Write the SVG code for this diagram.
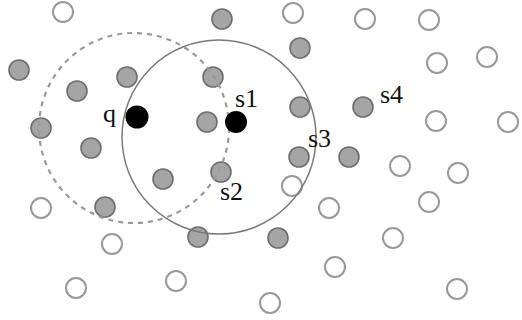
<svg xmlns="http://www.w3.org/2000/svg" width="522" height="320" viewBox="0 0 522 320">
<style>
.w{fill:#fff;stroke:#999;stroke-width:2}
.g{fill:#a5a5a5;stroke:#6e6e6e;stroke-width:1.6}
.b{fill:#000}
.lbl{font-family:"Liberation Serif","Times New Roman",serif;font-size:26px;fill:#111}
.ring{fill:none;stroke:#7a7a7a;stroke-width:1.5}
.dash{fill:none;stroke:#9a9a9a;stroke-width:2.2;stroke-dasharray:5 5}
</style>
<rect width="522" height="320" fill="#fff"/>
<g id="nodes-white">
<circle class="w" cx="63" cy="12" r="10"/>
<circle class="w" cx="293" cy="13" r="10"/>
<circle class="w" cx="365" cy="19" r="10"/>
<circle class="w" cx="429" cy="20" r="10"/>
<circle class="w" cx="437" cy="63" r="10"/>
<circle class="w" cx="487" cy="57" r="10"/>
<circle class="w" cx="436" cy="121" r="10"/>
<circle class="w" cx="508" cy="122" r="10"/>
<circle class="w" cx="400" cy="166" r="10"/>
<circle class="w" cx="458" cy="173" r="10"/>
<circle class="w" cx="292" cy="186" r="10"/>
<circle class="w" cx="329" cy="208" r="10"/>
<circle class="w" cx="429" cy="202" r="10"/>
<circle class="w" cx="41" cy="208" r="10"/>
<circle class="w" cx="112" cy="244" r="10"/>
<circle class="w" cx="393" cy="238" r="10"/>
<circle class="w" cx="335" cy="267" r="10"/>
<circle class="w" cx="76" cy="288" r="10"/>
<circle class="w" cx="176" cy="281" r="10"/>
<circle class="w" cx="457" cy="289" r="10"/>
<circle class="w" cx="270" cy="303" r="10"/>
</g>
<g id="nodes-gray">
<circle class="g" cx="222" cy="19" r="10"/>
<circle class="g" cx="300" cy="48" r="10"/>
<circle class="g" cx="19" cy="70" r="10"/>
<circle class="g" cx="77" cy="91" r="10"/>
<circle class="g" cx="127" cy="77" r="10"/>
<circle class="g" cx="213" cy="77" r="10"/>
<circle class="g" cx="300" cy="107" r="10"/>
<circle class="g" cx="363" cy="107" r="10"/>
<circle class="g" cx="41" cy="128" r="10"/>
<circle class="g" cx="91" cy="148" r="10"/>
<circle class="g" cx="207" cy="122" r="10"/>
<circle class="g" cx="299" cy="157" r="10"/>
<circle class="g" cx="349" cy="157" r="10"/>
<circle class="g" cx="163" cy="179" r="10"/>
<circle class="g" cx="221" cy="172" r="10"/>
<circle class="g" cx="105" cy="207" r="10"/>
<circle class="g" cx="198" cy="237" r="10"/>
<circle class="g" cx="278" cy="238" r="10"/>
</g>
<g id="connectors">
<circle class="dash" cx="134" cy="128" r="95"/>
<circle class="ring" cx="219" cy="137" r="97"/>
</g>
<g id="q"><circle class="b" cx="137" cy="117" r="11.5"/><text class="lbl" x="103" y="122">q</text></g>
<g id="s1"><circle class="b" cx="236" cy="122" r="11"/><text class="lbl" x="235" y="107">s1</text></g>
<g id="s2"><text class="lbl" x="220" y="200">s2</text></g>
<g id="s3"><text class="lbl" x="308" y="147">s3</text></g>
<g id="s4"><text class="lbl" x="380" y="103">s4</text></g>
</svg>
